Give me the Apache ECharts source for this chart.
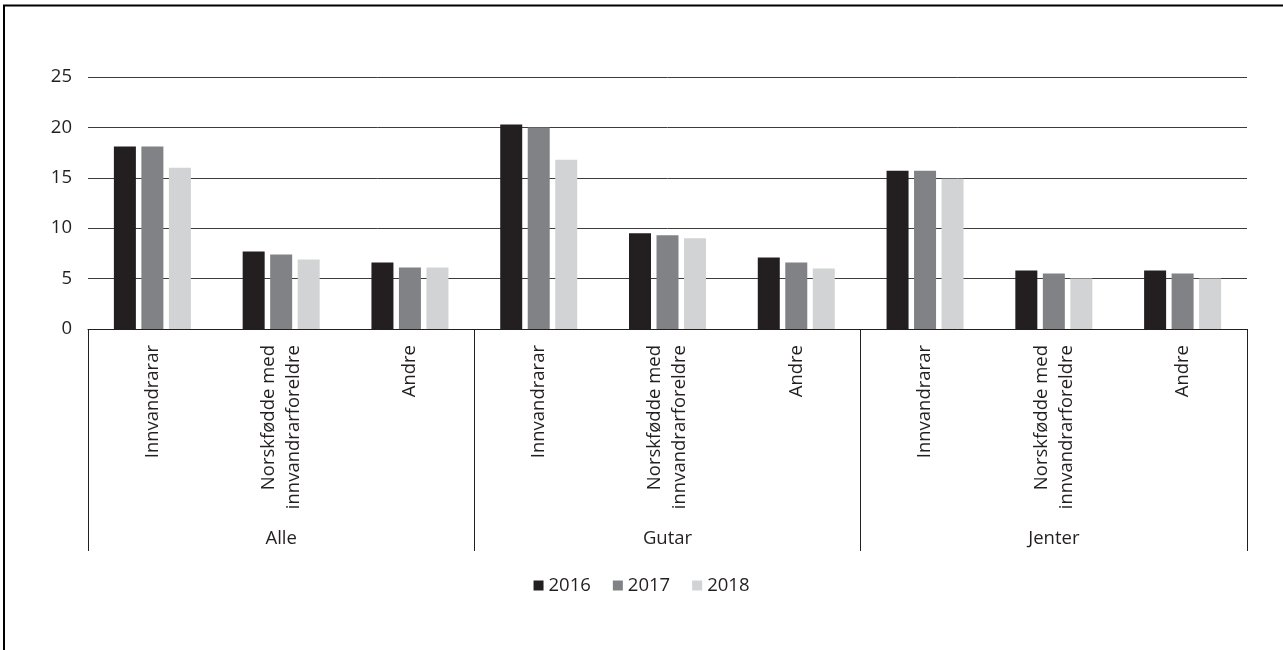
<!DOCTYPE html>
<html>
<head>
<meta charset="utf-8">
<script src="https://cdn.jsdelivr.net/npm/echarts@6/dist/echarts.min.js"></script>
<style>
html,body{margin:0;padding:0;background:#fff;}
#chart{width:1283px;height:650px;}
</style>
</head>
<body>
<div id="chart"></div>
<script>
const subCategories = ["Innvandrarar", "Norskfødde med\ninnvandrarforeldre", "Andre",
                       "Innvandrarar", "Norskfødde med\ninnvandrarforeldre", "Andre",
                       "Innvandrarar", "Norskfødde med\ninnvandrarforeldre", "Andre"];
const groups = ["Alle", "Gutar", "Jenter"];
const seriesNames = ["2016", "2017", "2018"];
const values2016 = [18.1, 7.7, 6.6, 20.3, 9.5, 7.1, 15.7, 5.8, 5.8];
const values2017 = [18.1, 7.4, 6.1, 20.0, 9.3, 6.6, 15.7, 5.5, 5.5];
const values2018 = [16.0, 6.9, 6.1, 16.8, 9.0, 6.0, 14.9, 5.0, 5.0];
const colors = ["#231f20", "#808285", "#d1d3d4"];
const FONT = "Open Sans";
const FS = 18.5;

const chart = echarts.init(document.getElementById('chart'));
const allValues = [values2016, values2017, values2018];
chart.setOption({
  animation: false,
  textStyle: { fontFamily: FONT },
  grid: { left: 88, right: 36, top: 77, bottom: 321, containLabel: false },
  legend: {
    data: seriesNames,
    top: 571,
    left: 'center',
    icon: 'rect',
    itemWidth: 10,
    itemHeight: 10,
    itemGap: 22,
    textStyle: { fontFamily: FONT, fontSize: FS, color: '#231f20' }
  },
  xAxis: [
    {
      type: 'category',
      data: subCategories,
      position: 'bottom',
      axisLine: { show: true, lineStyle: { color: '#231f20', width: 1 } },
      axisTick: { show: false },
      axisLabel: {
        interval: 0,
        rotate: 90,
        margin: 16,
        fontFamily: FONT,
        fontSize: FS,
        color: '#231f20',
        lineHeight: 25
      }
    },
    {
      type: 'category',
      data: groups,
      position: 'bottom',
      axisLine: { show: false },
      axisTick: { show: true, alignWithLabel: false, length: 222, lineStyle: { color: '#231f20', width: 1 } },
      axisLabel: {
        interval: 0,
        margin: 200,
        fontFamily: FONT,
        fontSize: FS,
        color: '#231f20'
      }
    }
  ],
  yAxis: {
    type: 'value',
    min: 0,
    max: 25,
    interval: 5,
    axisLine: { show: false },
    axisTick: { show: false },
    splitLine: { show: true, lineStyle: { color: '#3c3c3c', width: 1 } },
    axisLabel: { margin: 16, fontFamily: FONT, fontSize: FS, color: '#231f20' }
  },
  series: seriesNames.map((name, i) => ({
    name: name,
    type: 'bar',
    xAxisIndex: 0,
    data: allValues[i],
    barWidth: 22,
    barGap: '25%',
    itemStyle: { color: colors[i] }
  })),
  graphic: [
    {
      type: 'polyline',
      shape: { points: [[4, 650], [4, 5.5], [1283, 5.5]] },
      style: { stroke: '#000', lineWidth: 2, fill: null },
      silent: true
    }
  ]
});
</script>
</body>
</html>
